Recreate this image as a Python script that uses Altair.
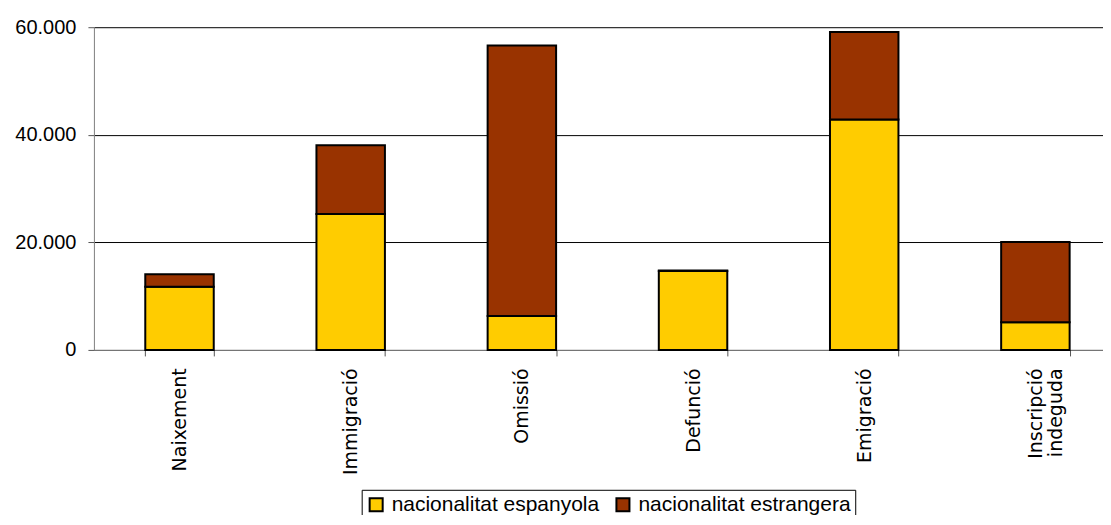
import altair as alt
import pandas as pd

categories = ["Naixement", "Immigració", "Omissió", "Defunció", "Emigració", "Inscripció indeguda"]
series = ["nacionalitat espanyola", "nacionalitat estrangera"]
espanyola = [11750, 25250, 6300, 14650, 42850, 5150]
estrangera = [2300, 12800, 50300, 100, 16250, 14900]
colors = ["#FFCC00", "#993300"]
y_ticks = [0, 20000, 40000, 60000]

rows = []
for c, a, b in zip(categories, espanyola, estrangera):
    rows.append({"cat": c, "serie": series[0], "value": a, "ord": 0})
    rows.append({"cat": c, "serie": series[1], "value": b, "ord": 1})
df = pd.DataFrame(rows)

chart = alt.Chart(df).mark_bar(stroke="black", strokeWidth=2).encode(
    x=alt.X(
        "cat:N",
        sort=categories,
        scale=alt.Scale(paddingInner=0.6, paddingOuter=0.3),
        axis=alt.Axis(
            title=None,
            labelAngle=270,
            labelFont="DejaVu Sans",
            labelFontSize=19,
            labelColor="black",
            labelPadding=12,
            labelLineHeight=20,
            labelLimit=0,
            labelExpr="split(datum.label, ' ')",
            tickBand="extent",
            tickSize=6,
            tickColor="#555555",
            domainColor="#808080",
            grid=False,
        ),
    ),
    y=alt.Y(
        "value:Q",
        stack="zero",
        scale=alt.Scale(domain=[0, 60000]),
        axis=alt.Axis(
            title=None,
            values=y_ticks,
            labelExpr="replace(format(datum.value, ','), ',', '.')",
            labelFont="Liberation Sans",
            labelFontSize=20,
            labelColor="black",
            labelPadding=12,
            tickSize=6,
            tickColor="#555555",
            domainColor="#808080",
            grid=True,
            gridColor="#000000",
            gridWidth=1,
        ),
    ),
    color=alt.Color(
        "serie:N",
        scale=alt.Scale(domain=series, range=colors),
        legend=alt.Legend(
            title=None,
            orient="none",
            legendX=268,
            legendY=463,
            direction="horizontal",
            strokeColor="#000000",
            fillColor="white",
            padding=4,
            labelFont="Liberation Sans",
            labelFontSize=21,
            labelColor="black",
            labelOffset=5,
            labelLimit=0,
            symbolType="square",
            symbolSize=170,
            symbolStrokeColor="black",
            symbolStrokeWidth=2,
            symbolOpacity=1,
            columnPadding=12,
        ),
    ),
    order=alt.Order("ord:Q"),
).properties(
    width=1028,
    height=323,
    padding={"left": 6, "top": 9, "right": -18, "bottom": -6},
).configure_view(stroke=None)

chart.save("out.html", embed_options={"renderer": "svg", "actions": False})
